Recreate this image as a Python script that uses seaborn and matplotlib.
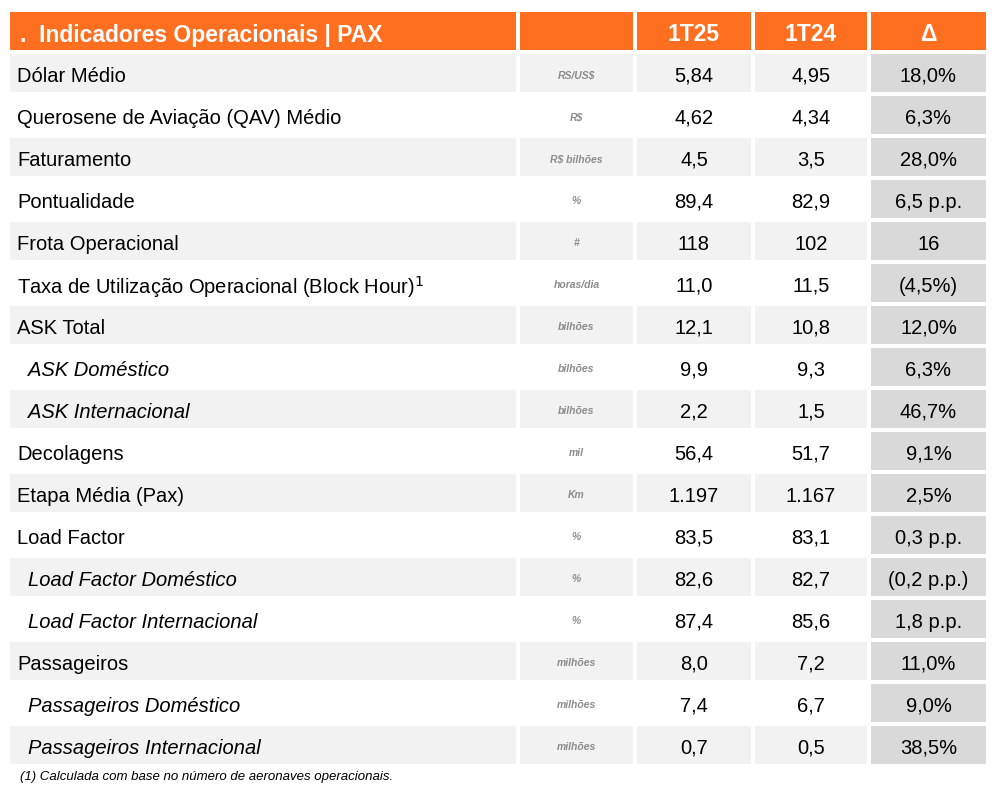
import matplotlib
matplotlib.use("Agg")
import matplotlib.pyplot as plt
from matplotlib.patches import Rectangle
import seaborn as sns

sns.set_theme(style="white", font="Liberation Sans")

title = ".  Indicadores Operacionais | PAX"
col_headers = ["1T25", "1T24", "Δ"]
labels = ["Dólar Médio", "Querosene de Aviação (QAV) Médio", "Faturamento", "Pontualidade",
          "Frota Operacional", "Taxa de Utilização Operacional (Block Hour)$^1$", "ASK Total",
          "ASK Doméstico", "ASK Internacional", "Decolagens", "Etapa Média (Pax)", "Load Factor",
          "Load Factor Doméstico", "Load Factor Internacional", "Passageiros",
          "Passageiros Doméstico", "Passageiros Internacional"]
sub_rows = [False, False, False, False, False, False, False, True, True, False, False, False,
            True, True, False, True, True]
units = ["RS/US$", "R$", "R$ bilhões", "%", "#", "horas/dia", "bilhões", "bilhões", "bilhões",
         "mil", "Km", "%", "%", "%", "milhões", "milhões", "milhões"]
v_1t25 = ["5,84", "4,62", "4,5", "89,4", "118", "11,0", "12,1", "9,9", "2,2", "56,4", "1.197",
          "83,5", "82,6", "87,4", "8,0", "7,4", "0,7"]
v_1t24 = ["4,95", "4,34", "3,5", "82,9", "102", "11,5", "10,8", "9,3", "1,5", "51,7", "1.167",
          "83,1", "82,7", "85,6", "7,2", "6,7", "0,5"]
delta = ["18,0%", "6,3%", "28,0%", "6,5 p.p.", "16", "(4,5%)", "12,0%", "6,3%", "46,7%", "9,1%",
         "2,5%", "0,3 p.p.", "(0,2 p.p.)", "1,8 p.p.", "11,0%", "9,0%", "38,5%"]
footnote = "(1) Calculada com base no número de aeronaves operacionais."

ORANGE = "#FF6F1F"
LIGHT = "#F2F2F2"
DARK = "#D9D9D9"
edges = [(10, 516), (520, 633), (637, 751), (755, 867), (871, 986)]
y0, pitch, h = 54, 42, 38

fig = plt.figure(figsize=(10.04, 7.96), dpi=100)
ax = fig.add_axes([0, 0, 1, 1])
ax.set_xlim(0, 1004)
ax.set_ylim(796, 0)
ax.axis("off")

# header
for (a, b) in edges:
    ax.add_patch(Rectangle((a, 12), b - a, 38, color=ORANGE, lw=0))
ax.text(20, 33, title, color="white", fontsize=16.5, fontweight="bold", va="center_baseline")
for (a, b), t in zip(edges[2:], col_headers):
    ax.text((a + b) / 2, 32, t, color="white", fontsize=16.5, fontweight="bold",
            va="center_baseline", ha="center")

for i, lab in enumerate(labels):
    top = y0 + i * pitch
    cy = top + h / 2 + 1
    shade = LIGHT if i % 2 == 0 else "white"
    for j, (a, b) in enumerate(edges):
        c = DARK if j == 4 else shade
        ax.add_patch(Rectangle((a, top), b - a, h, color=c, lw=0))
    ax.text(28 if sub_rows[i] else 17, cy, lab, fontsize=14.5, va="center_baseline",
            style="italic" if sub_rows[i] else "normal", color="black")
    ax.text(sum(edges[1]) / 2, cy, units[i], fontsize=7.5, va="center_baseline", ha="center",
            style="italic", fontweight="bold", color="#8C8C8C")
    for j, vals in zip([2, 3, 4], [v_1t25, v_1t24, delta]):
        ax.text(sum(edges[j]) / 2, cy, vals[i], fontsize=14.5, va="center_baseline",
                ha="center", color="black")

ax.text(20, 777, footnote, fontsize=9.5, style="italic", va="center", color="black")
fig.savefig("out.png", dpi=100)
